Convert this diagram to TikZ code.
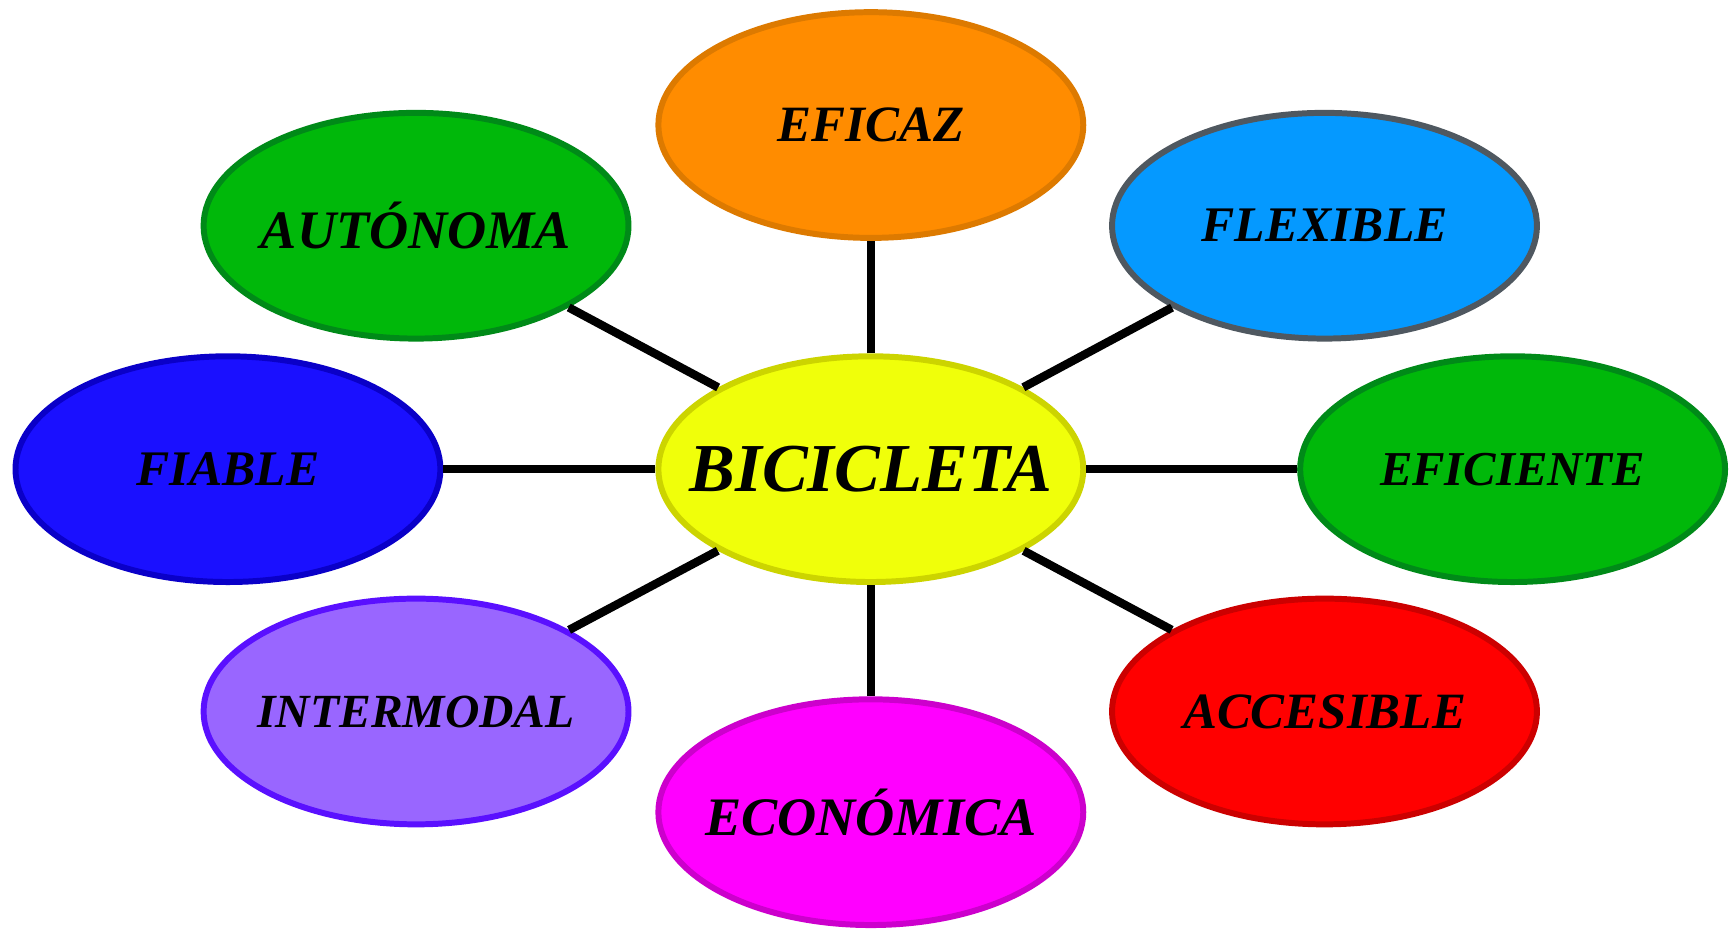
\documentclass[tikz,border=0pt]{standalone}
\usepackage{fontspec}
\setmainfont{Liberation Serif}
\usetikzlibrary{shapes.geometric}
\newcommand{\lbz}[1]{\makebox[0pt]{#1}}
\newcommand{\fsz}[1]{\fontsize{#1}{#1}\selectfont\bfseries\itshape}
\definecolor{cOrange}{HTML}{FF8C00}\definecolor{bOrange}{HTML}{DD7A00}
\definecolor{cGreen}{HTML}{00B80A}\definecolor{bGreen}{HTML}{008A18}
\definecolor{cSky}{HTML}{0599FF}\definecolor{bSky}{HTML}{4F5860}
\definecolor{cBlue}{HTML}{1A10FF}\definecolor{bBlue}{HTML}{0A00C8}
\definecolor{cYellow}{HTML}{F0FF0A}\definecolor{bYellow}{HTML}{CCD400}
\definecolor{cPurple}{HTML}{9966FF}\definecolor{bPurple}{HTML}{5A10FF}
\definecolor{cRed}{HTML}{FF0000}\definecolor{bRed}{HTML}{CC0000}
\definecolor{cMag}{HTML}{FF00FF}\definecolor{bMag}{HTML}{CC00CC}
\begin{document}
\begin{tikzpicture}[x=0.5pt,y=-0.5pt,
  bubble/.style={ellipse, minimum width=192pt, minimum height=102pt, inner sep=0pt, line width=2.7pt,
    font=\fsz{23}},
  link/.style={line width=3.8pt, black}]
\useasboundingbox (0,0) rectangle (1568,840);
\node[bubble, fill=cYellow, draw=bYellow, font=\fsz{31}] (bici) at (787,424) {\lbz{BICICLETA}};
\node[bubble, fill=cOrange, draw=bOrange] (eficaz) at (787,113) {\lbz{EFICAZ}};
\node[bubble, fill=cGreen, draw=bGreen, font=\fsz{24.5}] (auto) at (376,204) {\lbz{AUTÓNOMA}};
\node[bubble, fill=cSky, draw=bSky, font=\fsz{22.5}] (flex) at (1197,204) {\lbz{FLEXIBLE}};
\node[bubble, fill=cBlue, draw=bBlue, font=\fsz{22.5}] (fiable) at (206,424) {\lbz{FIABLE}};
\node[bubble, fill=cGreen, draw=bGreen, font=\fsz{22}] (efic) at (1367,424) {\lbz{EFICIENTE}};
\node[bubble, fill=cPurple, draw=bPurple, font=\fsz{21.5}] (inter) at (376,643) {\lbz{INTERMODAL}};
\node[bubble, fill=cRed, draw=bRed] (acc) at (1197,643) {\lbz{ACCESIBLE}};
\node[bubble, fill=cMag, draw=bMag, font=\fsz{24.5}] (econ) at (787,734) {\lbz{ECONÓMICA}};
\draw[link] (bici) -- (eficaz);
\draw[link] (bici) -- (auto);
\draw[link] (bici) -- (flex);
\draw[link] (bici) -- (fiable);
\draw[link] (bici) -- (efic);
\draw[link] (bici) -- (inter);
\draw[link] (bici) -- (acc);
\draw[link] (bici) -- (econ);
\end{tikzpicture}
\end{document}
